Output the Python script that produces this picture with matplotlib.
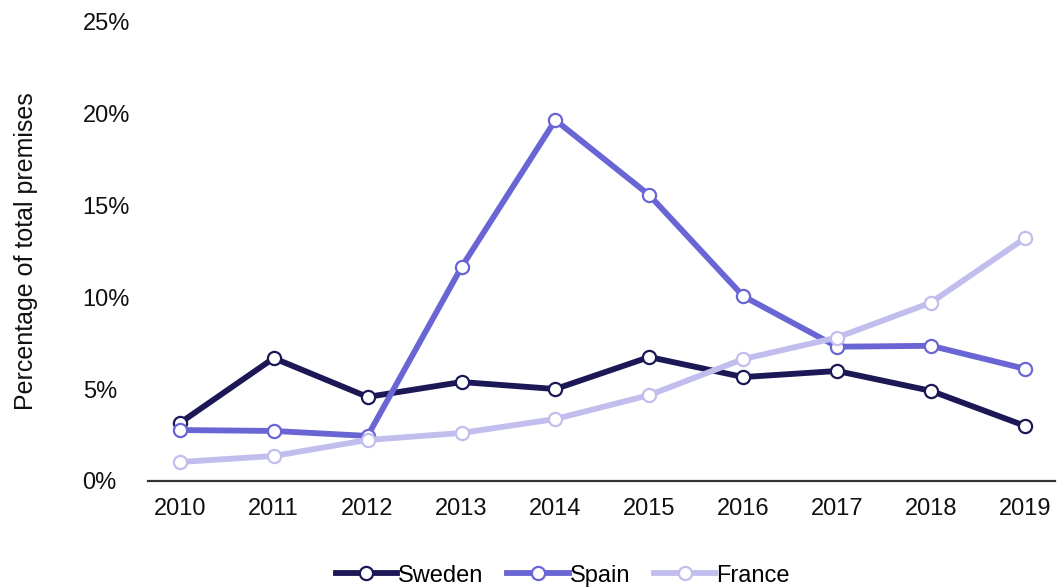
import matplotlib
matplotlib.use('Agg')
import matplotlib.pyplot as plt
from matplotlib.ticker import FuncFormatter

plt.rcParams['font.family'] = ['Liberation Sans', 'DejaVu Sans']

years = [2010, 2011, 2012, 2013, 2014, 2015, 2016, 2017, 2018, 2019]
sweden = [3.15, 6.68, 4.57, 5.38, 5.0, 6.74, 5.65, 5.98, 4.9, 3.0]
spain = [2.77, 2.72, 2.45, 11.63, 19.62, 15.54, 10.05, 7.3, 7.35, 6.1]
france = [1.03, 1.36, 2.23, 2.61, 3.37, 4.67, 6.63, 7.8, 9.7, 13.2]

series = [('Sweden', sweden, '#1c1856'), ('Spain', spain, '#6965d4'), ('France', france, '#c1beee')]

fig = plt.figure(figsize=(10.64, 5.88), dpi=100)
ax = fig.add_axes([0.139, 0.182, 0.8525, 0.782])

for nombre, valores, color in series:
    ax.plot(years, valores, color=color, linewidth=4.2, marker='o', markersize=9.5,
            markerfacecolor='white', markeredgecolor=color, markeredgewidth=1.6,
            label=nombre, solid_joinstyle='round')

ax.set_xlim(2009.66, 2019.32)
ax.set_ylim(0, 25)
ax.set_xticks(years)
ax.set_yticks([0, 5, 10, 15, 20, 25])
ax.yaxis.set_major_formatter(FuncFormatter(lambda v, p: f'{v:.0f}%'))
ax.tick_params(axis='both', length=0, labelsize=17, colors='#111111')
ax.tick_params(axis='x', pad=12)
ax.tick_params(axis='y', pad=47)
for lbl in ax.get_yticklabels():
    lbl.set_horizontalalignment('left')

for s in ['top', 'right', 'left']:
    ax.spines[s].set_visible(False)
ax.spines['bottom'].set_color('#333333')
ax.spines['bottom'].set_linewidth(1.6)

ax.set_ylabel('Percentage of total premises', fontsize=18, color='#111111', labelpad=32)

fig.legend(loc='lower center', bbox_to_anchor=(0.529, -0.034), ncol=3, frameon=False,
           fontsize=17, handlelength=2.6, handletextpad=0.05, columnspacing=1.0)

fig.savefig('out.png', dpi=100)
